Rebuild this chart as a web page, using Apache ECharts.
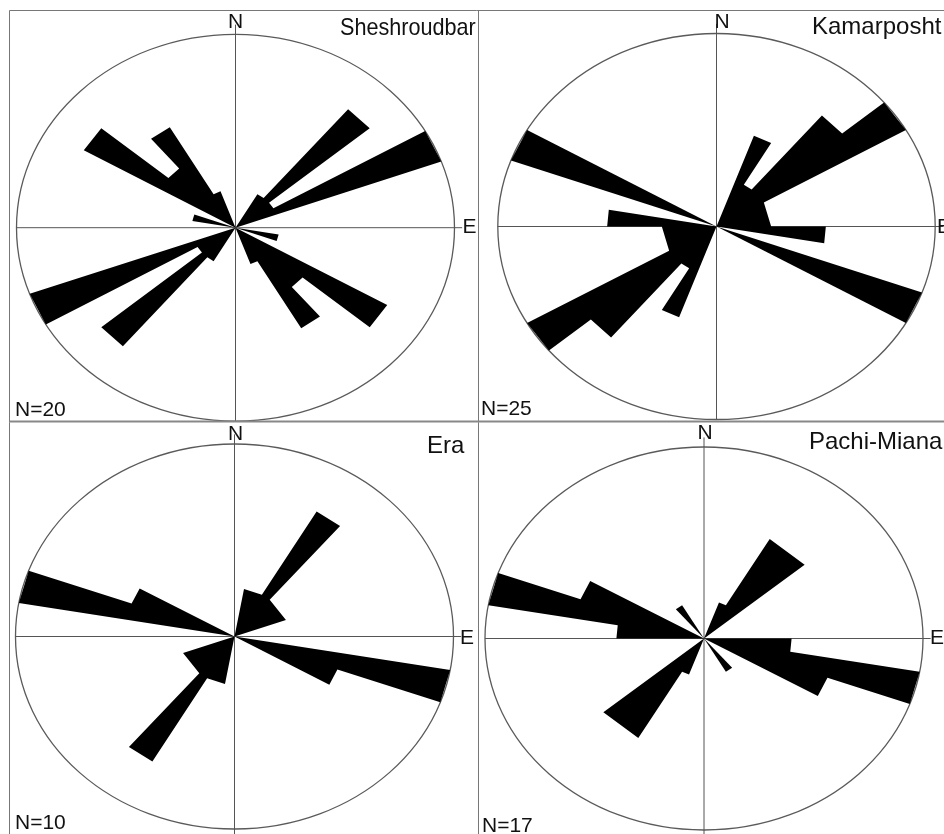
<!DOCTYPE html>
<html>
<head>
<meta charset="utf-8">
<script src="https://cdn.jsdelivr.net/npm/echarts@6/dist/echarts.min.js"></script>
<style>
html,body{margin:0;padding:0;background:#fff;}
#chart{width:944px;height:834px;}
</style>
</head>
<body>
<div id="chart"></div>
<script>
// ---- data (axial rose diagrams, 10-degree bins, azimuth from North, clockwise) ----
const binStarts    = [0,10,20,30,40,50,60,70,80,90,100,110,120,130,140,150,160,170];
const sheshroudbar = [0,0,0,1,4,1,5,0,0,0,1,0,4,2,3,1,0,0];
const kamarposht   = [0,0,2,1,3,4,1,1,1,2,0,4,0,0,0,0,0,0];
const era          = [0,1,1,3,1,1,1,0,0,0,4,2,0,0,0,0,0,0];
const pachiMiana   = [0,0,1,3,3,0,0,0,0,2,5,3,0,0,1,0,0,0];
const stationNames = ['Sheshroudbar','Kamarposht','Era','Pachi-Miana'];
const sampleLabels = ['N=20','N=25','N=10','N=17'];
const radialMax    = [5,4,4,5];
const binWidth = 10;

const stationValues = [sheshroudbar, kamarposht, era, pachiMiana];

// ---- layout (pixels) ----
const panels = [
  {cx:235.5, cy:227.7, rx:219, ry:193.4, vBottom:1.0, nx:235.5, ny:22.5, ex:462.5, ey:227.5, tx:340, ty:28, tScale:0.9, cntX:15, cntY:410},
  {cx:716.5, cy:226.5, rx:218.7, ry:193, vBottom:1.0, nx:722, ny:22, ex:937, ey:227, tx:812, ty:27, tScale:1, cntX:481, cntY:409},
  {cx:234.5, cy:636.5, rx:219, ry:192.5, vBottom:1.03, nx:235.5, ny:434, ex:460, ey:638, tx:427, ty:446, tScale:1, cntX:15, cntY:823},
  {cx:704, cy:638.5, rx:219, ry:191.5, vBottom:1.03, nx:705, ny:433, ex:930, ey:638.5, tx:809, ty:442, tScale:1, cntX:482, cntY:826}
];

const FONT = '"Liberation Sans", Arial, sans-serif';

const grids = [], xAxes = [], yAxes = [], series = [];
panels.forEach((p, i) => {
  const M = radialMax[i];
  grids.push({left: p.cx - p.rx, top: p.cy - p.ry, width: 2 * p.rx, height: 2 * p.ry});
  xAxes.push({type:'value', gridIndex:i, min:-M, max:M, show:false});
  yAxes.push({type:'value', gridIndex:i, min:-M, max:M, show:false});

  // outline ellipse + N/E cross
  series.push({
    type:'custom', xAxisIndex:i, yAxisIndex:i, silent:true, z:1,
    data:[[0, 0]],
    renderItem: function (params, api) {
      const c = api.coord([0, 0]);
      const sz = api.size([M, M]);
      const left = api.coord([-M, 0]);
      const right = api.coord([M * 1.035, 0]);
      const top = api.coord([0, M * 1.05]);
      const bottom = api.coord([0, -M * p.vBottom]);
      return {
        type:'group',
        children:[
          {type:'ellipse', shape:{cx:c[0], cy:c[1], rx:sz[0], ry:sz[1]},
           style:{fill:null, stroke:'#5a5a5a', lineWidth:1.3}},
          {type:'line', shape:{x1:left[0], y1:left[1], x2:right[0], y2:right[1]},
           style:{stroke:'#555', lineWidth:1}},
          {type:'line', shape:{x1:top[0], y1:top[1], x2:bottom[0], y2:bottom[1]},
           style:{stroke:'#555', lineWidth:1}}
        ]
      };
    }
  });

  // petals (axial data: each bin mirrored at +180 degrees)
  const vals = stationValues[i];
  const petalData = [];
  binStarts.forEach((b, k) => petalData.push([b, vals[k]]));
  binStarts.forEach((b, k) => petalData.push([b + 180, vals[k]]));
  const n = petalData.length;
  series.push({
    type:'custom', xAxisIndex:i, yAxisIndex:i, silent:true, z:2,
    data: petalData,
    renderItem: function (params, api) {
      const idx = params.dataIndex;
      const v = petalData[idx][1];
      if (!v) return null;
      if (petalData[(idx - 1 + n) % n][1]) return null; // drawn by the start of its run
      const pts = [api.coord([0, 0])];
      let j = idx, steps = 0;
      while (petalData[j % n][1] && steps < n) {
        const cur = petalData[j % n];
        const r = cur[1];
        const pv = steps === 0 ? 0 : petalData[(j - 1) % n][1];
        const nv = petalData[(j + 1) % n][1];
        const a0 = cur[0] * Math.PI / 180;
        const a1 = (cur[0] + binWidth) * Math.PI / 180;
        if (r !== pv) pts.push(api.coord([r * Math.sin(a0), r * Math.cos(a0)]));
        if (r !== nv) pts.push(api.coord([r * Math.sin(a1), r * Math.cos(a1)]));
        j++; steps++;
      }
      return {type:'polygon', shape:{points:pts}, style:{fill:'#000'}};
    }
  });
});

// frame lines and labels
const graphics = [
  {type:'line', shape:{x1:9.5, y1:10.5, x2:944, y2:10.5}, style:{stroke:'#777', lineWidth:1}, z:10},
  {type:'line', shape:{x1:9.5, y1:10.5, x2:9.5, y2:834}, style:{stroke:'#777', lineWidth:1}, z:10},
  {type:'line', shape:{x1:478.5, y1:10.5, x2:478.5, y2:834}, style:{stroke:'#777', lineWidth:1}, z:10},
  {type:'line', shape:{x1:9.5, y1:421.5, x2:944, y2:421.5}, style:{stroke:'#888', lineWidth:2}, z:10}
];
panels.forEach((p, i) => {
  graphics.push({type:'text', x:p.nx, y:p.ny, z:11,
    style:{text:'N', font:'21px ' + FONT, fill:'#111', align:'center', verticalAlign:'middle'}});
  graphics.push({type:'text', x:p.ex, y:p.ey, z:11,
    style:{text:'E', font:'21px ' + FONT, fill:'#111', align:'left', verticalAlign:'middle'}});
  graphics.push({type:'text', x:p.tx, y:p.ty, z:11, scaleX:p.tScale,
    style:{text:stationNames[i], font:'24px ' + FONT, fill:'#111', align:'left', verticalAlign:'middle'}});
  graphics.push({type:'text', x:p.cntX, y:p.cntY, z:11,
    style:{text:sampleLabels[i], font:'21px ' + FONT, fill:'#111', align:'left', verticalAlign:'middle'}});
});

const chart = echarts.init(document.getElementById('chart'), null, {renderer:'canvas'});
chart.setOption({
  animation:false,
  backgroundColor:'#fff',
  grid: grids,
  xAxis: xAxes,
  yAxis: yAxes,
  series: series,
  graphic: graphics
});
</script>
</body>
</html>
